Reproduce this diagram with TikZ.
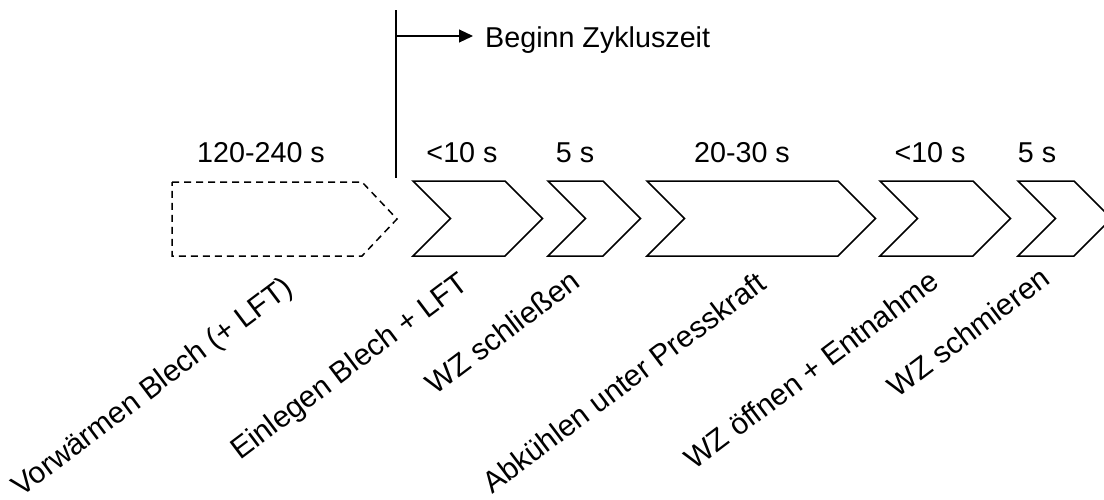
\documentclass[tikz,border=0pt]{standalone}
\usepackage{fontspec}
\setmainfont{Liberation Sans}
\usetikzlibrary{arrows.meta}
\begin{document}
\begin{tikzpicture}[x=1pt,y=-1pt,
  line join=miter,
  chev/.style={draw=black,line width=1.5pt},
  dchev/.style={draw=black,line width=1.5pt,dash pattern=on 7pt off 5pt},
  lbl/.style={inner sep=0pt,font=\fontsize{28.7}{34}\selectfont},
  tlbl/.style={lbl,anchor=base},
  rlbl/.style={inner sep=0pt,font=\fontsize{30}{36}\selectfont,anchor=base east,rotate=37}]
\useasboundingbox (0,0) rectangle (1104,499);
\fill[white] (0,0) rectangle (1104,499);
% dashed pre-step
\draw[dchev] (172,182) -- (362,182) -- (397,219) -- (362,256) -- (172,256) -- cycle;
% chevrons
\foreach \L/\R in {413/505, 548/603, 647/838, 880/973, 1018/1074}{
  \draw[chev] (\L,181) -- (\R,181) -- (\R+37.5,218.5) -- (\R,256) -- (\L,256) -- (\L+37.5,218.5) -- cycle;
}
% cycle start marker
\coordinate (vtop) at (396,10);
\coordinate (vbot) at (396,178);
\draw[line width=1.5pt] (vtop) -- (vbot);
\coordinate (astart) at (396,36);
\coordinate (aend) at (473,36);
\draw[line width=1.2pt,-{Triangle[length=14pt,width=13pt]}] (astart) -- (aend);
\node[lbl,anchor=base west] (zyk) at (485,47) {Beginn Zykluszeit};
% durations
\node[tlbl] (d0) at (261,162) {120-240 s};
\node[tlbl] (d1) at (462,162) {<10 s};
\node[tlbl] (d2) at (575,162) {5 s};
\node[tlbl] (d3) at (742,162) {20-30 s};
\node[tlbl] (d4) at (930,162) {<10 s};
\node[tlbl] (d5) at (1037,162) {5 s};
% step names
\node[rlbl] (s0) at (295,291) {Vorwärmen Blech (+ LFT)};
\node[rlbl] (s1) at (470,287) {Einlegen Blech + LFT};
\node[rlbl] (s2) at (582,285) {WZ schließen};
\node[rlbl] (s3) at (768,287) {Abkühlen unter Presskraft};
\node[rlbl] (s4) at (941,285) {WZ öffnen + Entnahme};
\node[rlbl] (s5) at (1052,282) {WZ schmieren};
\end{tikzpicture}
\end{document}
